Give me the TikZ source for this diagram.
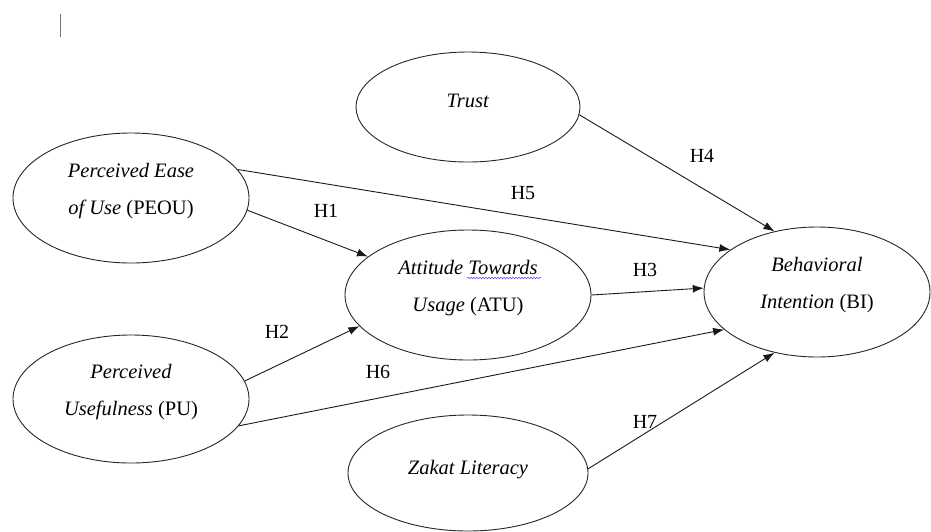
\documentclass[tikz,border=0pt]{standalone}
\usepackage{fontspec}
\setmainfont{Liberation Serif}
\newfontfamily\refserif{Liberation Serif}
\usetikzlibrary{shapes.geometric,arrows.meta,decorations.pathmorphing}
\begin{document}
\begin{tikzpicture}[x=1pt,y=-1pt,
  var/.style={draw=black!85, line width=0.9pt, ellipse, inner sep=0pt, align=center,
    font=\refserif\fontsize{20.5}{37}\selectfont},
  twoline/.style={text depth=18pt},
  oneline/.style={text depth=12pt},
  conn/.style={draw=black!90, line width=0.9pt, -{Latex[length=11pt,width=8pt]}},
  hlab/.style={font=\refserif\fontsize{20}{22}\selectfont, inner sep=0pt}]
\useasboundingbox (0,0) rectangle (931,531);
% cursor mark
\coordinate (c1) at (60,14);
\coordinate (c2) at (60,37);
\draw[black!55, line width=0.9pt] (c1) -- (c2);
% variables
\node[var, oneline, minimum width=224pt, minimum height=110pt] (trust) at (468,107) {\textit{Trust}};
\node[var, twoline, minimum width=236pt, minimum height=130pt] (peou) at (131,198) {\textit{Perceived Ease}\\\textit{of Use} (PEOU)};
\node[var, twoline, minimum width=246pt, minimum height=130pt] (atu) at (468,295) {\textit{Attitude Towards}\\\textit{Usage} (ATU)};
\node[var, twoline, minimum width=226pt, minimum height=130pt] (bi) at (817,292) {\textit{Behavioral}\\\textit{Intention} (BI)};
\node[var, twoline, minimum width=236pt, minimum height=128pt] (pu) at (131,399) {\textit{Perceived}\\\textit{Usefulness} (PU)};
\node[var, oneline, minimum width=240pt, minimum height=116pt] (zakat) at (468,473) {\textit{Zakat Literacy}};
% spell-check squiggle
\coordinate (s1) at (467,278);
\coordinate (s2) at (541,278);
\draw[blue!70, line width=0.5pt, decorate, decoration={snake, amplitude=0.8pt, segment length=3pt}] (s1) -- (s2);
% connectors
\draw[conn] (trust.-4) -- (bi.125);
\draw[conn] (peou.15) -- (bi.154.5);
\draw[conn] (peou.-6) -- (atu.159);
\draw[conn] (atu.0) -- (bi.178.5);
\draw[conn] (pu.9) -- (atu.-164);
\draw[conn] (pu.-14) -- (bi.-158.5);
\draw[conn] (zakat.2.5) -- (bi.-125.5);
% labels
\node[hlab] (h4) at (702,156) {H4};
\node[hlab] (h5) at (523,193) {H5};
\node[hlab] (h1) at (326,211) {H1};
\node[hlab] (h3) at (645,270) {H3};
\node[hlab] (h2) at (277,332) {H2};
\node[hlab] (h6) at (378,372) {H6};
\node[hlab] (h7) at (645,422) {H7};
\end{tikzpicture}
\end{document}
